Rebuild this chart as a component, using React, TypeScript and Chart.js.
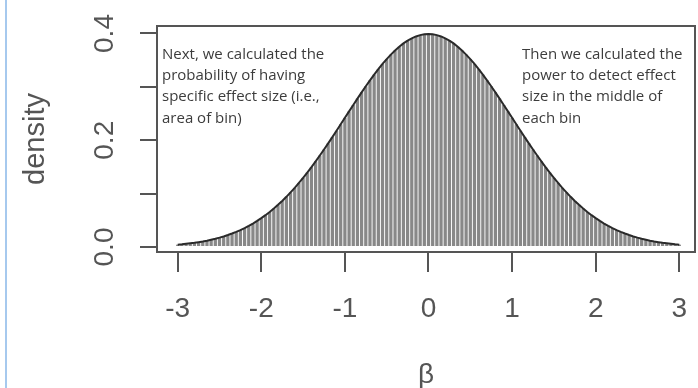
import React, { useEffect, useRef } from 'react';
import { Chart, registerables } from 'chart.js';

Chart.register(...registerables);

const betaValues = [
  -3.0, -2.95, -2.9, -2.85, -2.8, -2.75, -2.7, -2.65, -2.6, -2.55,
  -2.5, -2.45, -2.4, -2.35, -2.3, -2.25, -2.2, -2.15, -2.1, -2.05,
  -2.0, -1.95, -1.9, -1.85, -1.8, -1.75, -1.7, -1.65, -1.6, -1.55,
  -1.5, -1.45, -1.4, -1.35, -1.3, -1.25, -1.2, -1.15, -1.1, -1.05,
  -1.0, -0.95, -0.9, -0.85, -0.8, -0.75, -0.7, -0.65, -0.6, -0.55,
  -0.5, -0.45, -0.4, -0.35, -0.3, -0.25, -0.2, -0.15, -0.1, -0.05,
  0.0,
  0.05, 0.1, 0.15, 0.2, 0.25, 0.3, 0.35, 0.4, 0.45, 0.5,
  0.55, 0.6, 0.65, 0.7, 0.75, 0.8, 0.85, 0.9, 0.95, 1.0,
  1.05, 1.1, 1.15, 1.2, 1.25, 1.3, 1.35, 1.4, 1.45, 1.5,
  1.55, 1.6, 1.65, 1.7, 1.75, 1.8, 1.85, 1.9, 1.95, 2.0,
  2.05, 2.1, 2.15, 2.2, 2.25, 2.3, 2.35, 2.4, 2.45, 2.5,
  2.55, 2.6, 2.65, 2.7, 2.75, 2.8, 2.85, 2.9, 2.95, 3.0,
];

const densityValues = [
  0.0044, 0.0051, 0.006, 0.0069, 0.0079, 0.0091, 0.0104, 0.0119, 0.0136, 0.0154,
  0.0175, 0.0198, 0.0224, 0.0252, 0.0283, 0.0317, 0.0355, 0.0396, 0.044, 0.0488,
  0.054, 0.0596, 0.0656, 0.0721, 0.079, 0.0863, 0.094, 0.1023, 0.1109, 0.12,
  0.1295, 0.1394, 0.1497, 0.1604, 0.1714, 0.1826, 0.1942, 0.2059, 0.2179, 0.2299,
  0.242, 0.2541, 0.2661, 0.278, 0.2897, 0.3011, 0.3123, 0.323, 0.3332, 0.3429,
  0.3521, 0.3605, 0.3683, 0.3752, 0.3814, 0.3867, 0.391, 0.3945, 0.397, 0.3984,
  0.3989,
  0.3984, 0.397, 0.3945, 0.391, 0.3867, 0.3814, 0.3752, 0.3683, 0.3605, 0.3521,
  0.3429, 0.3332, 0.323, 0.3123, 0.3011, 0.2897, 0.278, 0.2661, 0.2541, 0.242,
  0.2299, 0.2179, 0.2059, 0.1942, 0.1826, 0.1714, 0.1604, 0.1497, 0.1394, 0.1295,
  0.12, 0.1109, 0.1023, 0.094, 0.0863, 0.079, 0.0721, 0.0656, 0.0596, 0.054,
  0.0488, 0.044, 0.0396, 0.0355, 0.0317, 0.0283, 0.0252, 0.0224, 0.0198, 0.0175,
  0.0154, 0.0136, 0.0119, 0.0104, 0.0091, 0.0079, 0.0069, 0.006, 0.0051, 0.0044,
];

const xTickValues = [-3, -2, -1, 0, 1, 2, 3];
const xTickLabels = ['-3', '-2', '-1', '0', '1', '2', '3'];
const yTickValues = [0, 0.1, 0.2, 0.3, 0.4];
const yTickLabels = ['0.0', '', '0.2', '', '0.4'];

const xAxisTitle = 'β';
const yAxisTitle = 'density';

const leftNote = [
  'Next, we calculated the',
  'probability of having',
  'specific effect size (i.e.,',
  'area of bin)',
];
const rightNote = [
  'Then we calculated the',
  'power to detect effect',
  'size in the middle of',
  'each bin',
];

function clearPadding(s: any) {
  s.paddingLeft = 0;
  s.paddingRight = 0;
  s.paddingTop = 0;
  s.paddingBottom = 0;
}

export default function App() {
  const canvasRef = useRef<HTMLCanvasElement>(null);

  useEffect(() => {
    if (!canvasRef.current) return;
    const points = betaValues.map((b, i) => ({ x: b, y: densityValues[i] }));

    const chrome = {
      id: 'chrome',
      beforeDraw(chart: any) {
        const ctx = chart.ctx;
        ctx.save();
        ctx.fillStyle = '#ffffff';
        ctx.fillRect(0, 0, chart.width, chart.height);
        ctx.fillStyle = '#a6c9ee';
        ctx.fillRect(5, 0, 2, chart.height);
        ctx.restore();
      },
      afterDraw(chart: any) {
        const ctx = chart.ctx;
        const a = chart.chartArea;
        ctx.save();
        ctx.strokeStyle = '#555555';
        ctx.lineWidth = 2;
        ctx.strokeRect(a.left, a.top, a.right - a.left, a.bottom - a.top);
        ctx.fillStyle = '#3c3c3c';
        ctx.font = '15px "Open Sans"';
        ctx.textBaseline = 'middle';
        ctx.textAlign = 'left';
        leftNote.forEach((t, i) => ctx.fillText(t, a.left + 5, a.top + 28.5 + i * 21.3));
        rightNote.forEach((t, i) => ctx.fillText(t, a.right - 173, a.top + 28.5 + i * 21.3));
        ctx.restore();
      },
    };

    const tickFont = { family: '"Liberation Sans", Arial, sans-serif', size: 28 };

    const chart = new Chart(canvasRef.current, {
      type: 'bar',
      data: {
        datasets: [
          {
            type: 'line',
            data: points,
            borderColor: '#2a2a2a',
            borderWidth: 2,
            pointRadius: 0,
            tension: 0,
            order: 0,
          } as any,
          {
            type: 'bar',
            data: points,
            backgroundColor: '#888888',
            borderWidth: 0,
            barPercentage: 0.78,
            categoryPercentage: 1,
            order: 1,
          } as any,
        ],
      },
      options: {
        animation: false,
        responsive: false,
        devicePixelRatio: 1,
        layout: { padding: { top: 26, right: 3, left: 0, bottom: 0 } },
        plugins: { legend: { display: false }, tooltip: { enabled: false } },
        scales: {
          x: {
            type: 'linear',
            min: -3.2476,
            max: 3.1878,
            offset: false,
            afterFit: (s: any) => { s.height = 136; clearPadding(s); },
            afterBuildTicks: (s: any) => { s.ticks = xTickValues.map((v) => ({ value: v })); },
            ticks: {
              callback: (_v: any, i: number) => xTickLabels[i],
              font: tickFont,
              color: '#555555',
              padding: 20,
              maxRotation: 0,
              minRotation: 0,
              autoSkip: false,
              includeBounds: false,
            },
            grid: { drawOnChartArea: false, drawTicks: true, tickLength: 20, color: '#555555', lineWidth: 2, offset: false },
            border: { display: false },
            title: {
              display: true,
              text: xAxisTitle,
              font: { ...tickFont, lineHeight: 1 },
              color: '#555555',
              padding: { top: 0, bottom: -1 },
            },
          } as any,
          y: {
            type: 'linear',
            min: -0.00937,
            max: 0.41405,
            afterFit: (s: any) => { s.width = 157; clearPadding(s); },
            afterBuildTicks: (s: any) => { s.ticks = yTickValues.map((v) => ({ value: v })); },
            ticks: {
              callback: (_v: any, i: number) => yTickLabels[i],
              font: tickFont,
              color: '#555555',
              padding: 15,
              minRotation: 90,
              maxRotation: 90,
              crossAlign: 'center',
              autoSkip: false,
              includeBounds: false,
            },
            grid: { drawOnChartArea: false, drawTicks: true, tickLength: 17, color: '#555555', lineWidth: 2 },
            border: { display: false },
            title: {
              display: true,
              text: yAxisTitle,
              font: { family: '"Liberation Sans", Arial, sans-serif', size: 29, lineHeight: 1 },
              color: '#555555',
              padding: { top: 21, bottom: 0 },
            },
          } as any,
        },
      },
      plugins: [chrome],
    });

    return () => chart.destroy();
  }, []);

  return (
    <div style={{ position: 'fixed', left: 0, top: 0, width: 698, height: 388, background: '#fff' }}>
      <canvas ref={canvasRef} width={698} height={388} style={{ display: 'block' }} />
    </div>
  );
}
